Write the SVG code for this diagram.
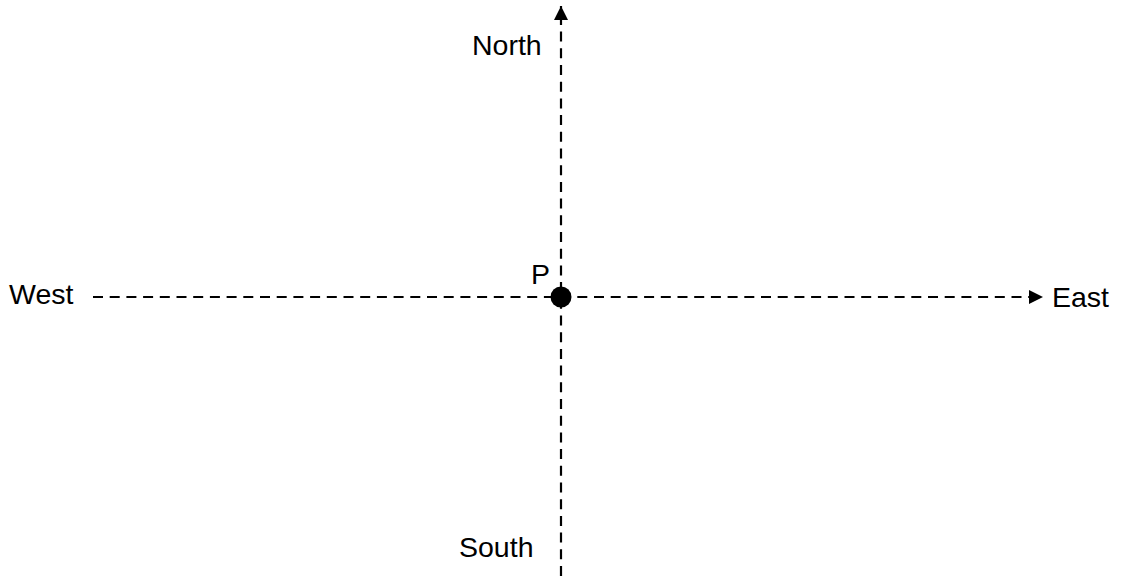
<svg xmlns="http://www.w3.org/2000/svg" width="1133" height="576" viewBox="0 0 1133 576">
<style>
.ax{stroke:#000;stroke-width:2.2;stroke-dasharray:10,6.7;fill:none}
.t{font-family:"Liberation Sans",Arial,sans-serif;font-size:28.5px;fill:#000}
</style>
<defs>
<marker id="ah" viewBox="0 0 10 10" refX="10" refY="5" markerWidth="6.5" markerHeight="6.5" markerUnits="strokeWidth" orient="auto"><path d="M0,0L10,5L0,10z" fill="#000"/></marker>
</defs>
<rect width="1133" height="576" fill="#fff"/>
<g id="connectors">
<line class="ax" x1="561" y1="576" x2="561" y2="6" marker-end="url(#ah)"/>
<line class="ax" x1="93" y1="297" x2="1043" y2="297" marker-end="url(#ah)"/>
</g>
<g id="P"><circle cx="561" cy="297" r="10.5" fill="#000"/><text class="t" x="531" y="284">P</text></g>
<g id="north"><text class="t" x="472" y="55">North</text></g>
<g id="south"><text class="t" x="459" y="557">South</text></g>
<g id="west"><text class="t" x="9" y="304">West</text></g>
<g id="east"><text class="t" x="1052" y="307">East</text></g>
</svg>
